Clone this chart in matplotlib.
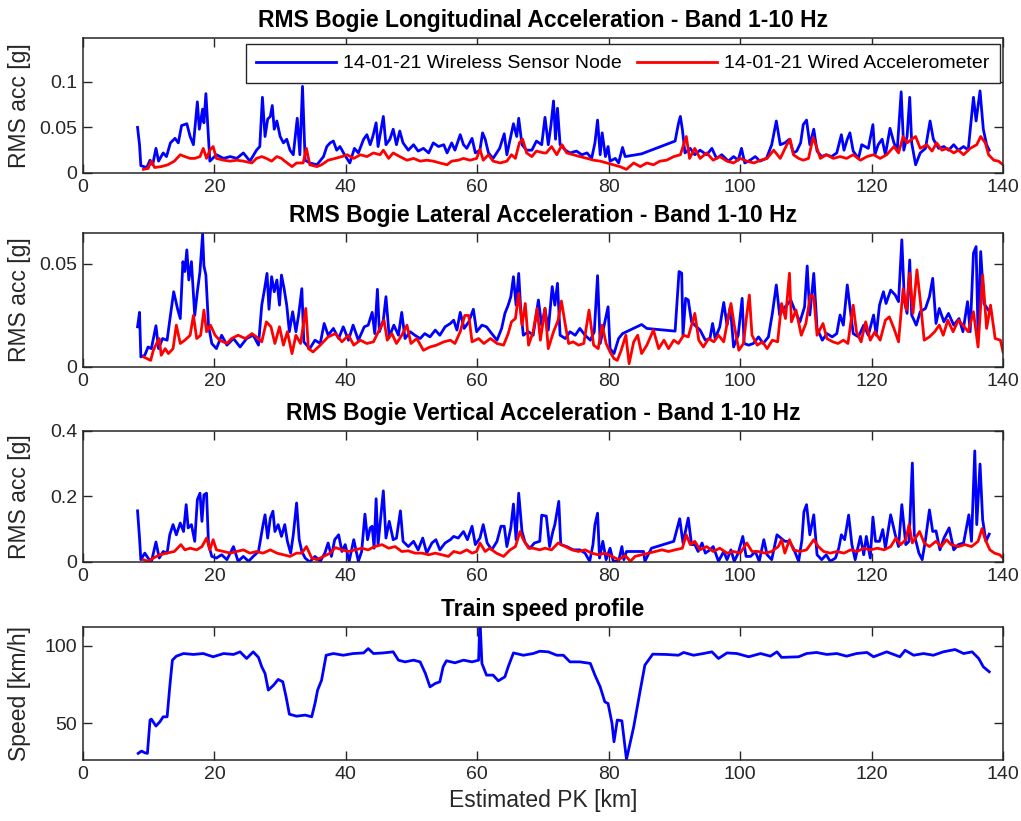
import numpy as np
import matplotlib
matplotlib.use("Agg")
import matplotlib.pyplot as plt

plt.rcParams['font.family'] = ['Liberation Sans', 'DejaVu Sans']

# ---- longitudinal RMS acceleration [g] ----
lon_km_wsn = [8.3, 8.6, 8.8, 9.7, 10.2, 10.6, 11.1, 11.5, 12.2, 12.7, 13.3, 14.0, 14.5, 15.0, 15.8, 16.3, 16.8, 17.4,
              17.7, 18.2, 18.4, 18.7, 19.1, 19.3, 20.3, 21.4, 22.4, 23.4, 24.4, 25.4, 26.4, 26.9, 27.3, 27.7, 28.1,
              28.5, 28.8, 29.1, 29.5, 30.0, 30.5, 31.0, 31.5, 32.0, 32.6, 33.0, 33.4, 33.8, 34.5, 35.6, 36.6, 37.1,
              37.6, 38.1, 38.6, 39.1, 39.8, 40.6, 41.3, 41.9, 42.7, 43.2, 43.7, 44.1, 44.6, 44.9, 45.7, 46.1, 46.7,
              47.2, 47.7, 48.2, 48.7, 49.5, 50.3, 51.0, 51.8, 52.6, 53.3, 54.1, 54.9, 55.4, 56.1, 56.6, 57.4, 57.9,
              58.4, 59.2, 59.7, 60.4, 60.8, 61.2, 61.7, 62.4, 63.4, 64.1, 64.5, 65.0, 65.5, 66.0, 66.3, 66.8, 67.5,
              68.3, 69.0, 69.8, 70.3, 70.8, 71.2, 71.6, 71.9, 72.2, 72.6, 73.4, 74.1, 75.1, 75.9, 76.7, 77.4, 77.9,
              78.3, 78.7, 79.0, 79.5, 79.9, 80.2, 81.0, 81.5, 82.1, 82.5, 85.0, 90.1, 90.6, 90.9, 91.2, 91.6, 92.4,
              93.1, 93.9, 94.9, 95.7, 96.4, 97.2, 98.2, 99.0, 99.7, 100.2, 100.7, 101.5, 102.3, 103.0, 104.0, 104.8,
              105.5, 106.1, 106.8, 107.5, 108.1, 108.6, 109.2, 109.6, 110.1, 110.6, 111.2, 111.7, 112.4, 113.1,
              113.9, 114.7, 115.4, 115.8, 116.3, 116.7, 117.2, 118.0, 118.5, 119.0, 119.5, 120.2, 120.5, 121.0,
              121.6, 122.1, 122.8, 123.4, 123.9, 124.5, 124.9, 125.4, 125.8, 126.1, 126.7, 127.4, 128.2, 128.9,
              129.4, 130.2, 131.0, 131.7, 132.5, 133.2, 134.0, 134.7, 135.5, 135.9, 136.5, 137.0, 137.5, 137.9]
lon_wsn = [0.050, 0.031, 0.008, 0.006, 0.014, 0.009, 0.027, 0.013, 0.022, 0.018, 0.033, 0.038, 0.033, 0.052, 0.054,
           0.040, 0.031, 0.078, 0.048, 0.070, 0.055, 0.087, 0.037, 0.013, 0.020, 0.016, 0.018, 0.016, 0.022, 0.013,
           0.025, 0.029, 0.083, 0.040, 0.059, 0.062, 0.074, 0.048, 0.057, 0.040, 0.033, 0.037, 0.025, 0.020, 0.060,
           0.020, 0.095, 0.014, 0.011, 0.009, 0.018, 0.029, 0.033, 0.035, 0.025, 0.029, 0.020, 0.011, 0.027, 0.022,
           0.037, 0.042, 0.031, 0.040, 0.055, 0.029, 0.062, 0.031, 0.037, 0.048, 0.031, 0.046, 0.033, 0.025, 0.031,
           0.024, 0.027, 0.022, 0.033, 0.029, 0.031, 0.022, 0.033, 0.025, 0.042, 0.031, 0.027, 0.038, 0.022, 0.025,
           0.044, 0.037, 0.022, 0.016, 0.027, 0.043, 0.020, 0.037, 0.054, 0.040, 0.060, 0.031, 0.025, 0.025, 0.035,
           0.031, 0.061, 0.031, 0.052, 0.079, 0.037, 0.071, 0.031, 0.025, 0.022, 0.024, 0.020, 0.022, 0.016, 0.033,
           0.058, 0.020, 0.044, 0.018, 0.029, 0.013, 0.016, 0.011, 0.028, 0.018, 0.021, 0.035, 0.054, 0.062, 0.048,
           0.022, 0.027, 0.020, 0.025, 0.020, 0.027, 0.016, 0.020, 0.013, 0.018, 0.014, 0.027, 0.011, 0.014, 0.018,
           0.013, 0.016, 0.031, 0.057, 0.031, 0.033, 0.037, 0.022, 0.024, 0.033, 0.053, 0.058, 0.031, 0.048, 0.024,
           0.018, 0.020, 0.018, 0.022, 0.042, 0.025, 0.037, 0.044, 0.024, 0.016, 0.031, 0.029, 0.027, 0.053, 0.020,
           0.031, 0.037, 0.020, 0.049, 0.033, 0.025, 0.089, 0.025, 0.040, 0.083, 0.033, 0.009, 0.022, 0.027, 0.057,
           0.037, 0.027, 0.029, 0.025, 0.031, 0.025, 0.029, 0.025, 0.083, 0.057, 0.090, 0.048, 0.031, 0.025]

lon_km_wired = [9.2, 9.9, 10.4, 10.9, 11.9, 12.9, 13.9, 14.8, 15.5, 16.3, 17.0, 17.8, 18.3, 18.8, 19.3, 19.8, 20.3,
                21.4, 22.4, 23.4, 24.4, 25.7, 26.4, 27.2, 27.9, 28.7, 29.5, 30.2, 30.7, 31.8, 32.5, 33.5, 34.0, 34.5,
                35.6, 36.3, 37.3, 38.4, 39.4, 40.2, 41.2, 42.2, 43.2, 44.2, 45.2, 45.7, 46.5, 47.2, 48.2, 49.3, 50.3,
                51.3, 52.3, 53.3, 54.3, 55.4, 56.1, 57.1, 57.9, 58.9, 59.9, 60.4, 60.9, 61.7, 62.4, 63.5, 64.5, 65.2,
                65.8, 66.4, 66.9, 67.5, 68.3, 69.0, 70.1, 70.5, 71.3, 72.1, 72.9, 73.6, 74.6, 75.6, 76.7, 77.7, 78.7,
                79.7, 80.7, 81.7, 82.7, 83.8, 84.8, 85.8, 86.8, 87.8, 88.8, 89.9, 90.9, 91.8, 92.3, 93.1, 93.9, 94.9,
                95.9, 96.9, 98.0, 99.0, 100.0, 101.0, 102.1, 103.1, 104.1, 105.1, 106.1, 107.1, 107.6, 108.1, 108.9,
                109.6, 110.4, 111.1, 111.6, 112.2, 113.1, 114.2, 115.2, 116.2, 117.2, 118.3, 119.3, 120.3, 121.3,
                122.3, 123.4, 124.1, 124.8, 125.4, 126.1, 126.7, 127.4, 128.4, 129.2, 129.9, 130.7, 131.5, 132.5,
                133.2, 134.0, 135.0, 136.0, 136.6, 137.3, 137.8, 138.6, 139.3, 140.0]
lon_wired = [0.004, 0.005, 0.013, 0.006, 0.007, 0.009, 0.013, 0.020, 0.018, 0.016, 0.016, 0.018, 0.027, 0.016, 0.025,
             0.029, 0.016, 0.014, 0.013, 0.014, 0.013, 0.011, 0.016, 0.018, 0.016, 0.013, 0.018, 0.016, 0.013, 0.007,
             0.011, 0.011, 0.027, 0.009, 0.007, 0.009, 0.014, 0.016, 0.018, 0.020, 0.016, 0.020, 0.018, 0.022, 0.020,
             0.025, 0.016, 0.022, 0.018, 0.014, 0.016, 0.013, 0.014, 0.013, 0.011, 0.009, 0.013, 0.014, 0.016, 0.014,
             0.016, 0.026, 0.014, 0.020, 0.013, 0.011, 0.013, 0.020, 0.016, 0.033, 0.037, 0.022, 0.018, 0.024, 0.022,
             0.022, 0.029, 0.020, 0.031, 0.022, 0.020, 0.018, 0.016, 0.014, 0.013, 0.011, 0.009, 0.007, 0.004, 0.011,
             0.007, 0.011, 0.009, 0.013, 0.014, 0.018, 0.020, 0.040, 0.016, 0.027, 0.016, 0.022, 0.014, 0.018, 0.013,
             0.011, 0.016, 0.013, 0.011, 0.014, 0.016, 0.025, 0.016, 0.031, 0.037, 0.020, 0.016, 0.014, 0.016, 0.039,
             0.029, 0.016, 0.020, 0.016, 0.018, 0.016, 0.020, 0.014, 0.018, 0.020, 0.016, 0.020, 0.029, 0.022, 0.040,
             0.033, 0.037, 0.040, 0.027, 0.031, 0.024, 0.033, 0.025, 0.027, 0.022, 0.025, 0.020, 0.027, 0.031, 0.040,
             0.033, 0.020, 0.014, 0.013, 0.009]

# ---- lateral RMS acceleration [g] ----
lat_km_wsn = [8.3, 8.6, 8.8, 9.4, 9.9, 10.4, 11.1, 11.5, 12.1, 12.8, 13.3, 13.8, 14.4, 14.8, 15.2, 15.5, 15.8, 16.1,
              16.5, 17.0, 17.4, 17.8, 18.2, 18.4, 18.7, 19.1, 19.6, 20.3, 21.1, 21.9, 22.9, 23.9, 24.9, 25.9, 26.7,
              27.2, 27.6, 28.0, 28.3, 28.7, 29.1, 29.5, 29.9, 30.2, 30.6, 31.0, 31.4, 31.9, 32.4, 32.8, 33.3, 33.6,
              34.5, 35.3, 36.1, 36.7, 37.3, 38.1, 38.9, 39.6, 40.4, 41.1, 41.9, 42.8, 43.4, 44.0, 44.4, 44.8, 45.1,
              45.7, 46.1, 46.6, 47.3, 48.0, 48.5, 49.0, 49.8, 50.5, 51.3, 52.0, 52.8, 53.6, 54.3, 55.1, 55.9, 56.4,
              56.9, 57.4, 58.0, 58.7, 59.4, 59.9, 60.7, 61.4, 62.2, 63.0, 63.7, 64.2, 64.7, 65.1, 65.5, 65.9, 66.3,
              66.6, 67.0, 67.8, 68.5, 69.3, 69.8, 70.3, 70.8, 71.4, 71.8, 72.2, 72.6, 73.4, 74.1, 74.9, 75.6, 76.4,
              77.2, 77.8, 78.3, 78.7, 79.2, 79.9, 80.2, 80.8, 81.5, 82.1, 85.0, 85.8, 90.1, 90.7, 91.1, 91.3, 91.7,
              92.1, 92.6, 93.1, 93.9, 94.7, 95.4, 95.8, 96.2, 96.9, 97.5, 98.0, 98.5, 99.0, 99.7, 100.3, 100.6,
              101.3, 102.0, 102.8, 103.5, 104.3, 104.9, 105.5, 106.0, 106.6, 107.1, 107.7, 108.4, 109.1, 109.8,
              110.2, 110.6, 111.2, 111.7, 112.5, 113.2, 114.0, 114.7, 115.2, 115.7, 116.3, 116.7, 117.2, 118.0,
              118.8, 119.5, 120.3, 120.7, 121.2, 121.8, 122.2, 122.9, 123.6, 124.1, 124.6, 125.0, 125.4, 125.8,
              126.1, 126.8, 127.4, 128.2, 128.8, 129.3, 129.8, 130.3, 131.0, 131.7, 132.5, 133.3, 133.9, 134.6,
              135.0, 135.5, 135.9, 136.2, 136.6, 137.1, 137.6, 138.1]
lat_wsn = [0.0195, 0.0265, 0.0049, 0.0057, 0.0097, 0.0089, 0.0200, 0.0089, 0.0138, 0.0130, 0.0250, 0.0365, 0.0280,
           0.0235, 0.0511, 0.0463, 0.0568, 0.0422, 0.0511, 0.0250, 0.0365, 0.0463, 0.0645, 0.0490, 0.0446, 0.0200,
           0.0114, 0.0089, 0.0154, 0.0106, 0.0138, 0.0097, 0.0138, 0.0154, 0.0106, 0.0300, 0.0373, 0.0454, 0.0280,
           0.0438, 0.0365, 0.0422, 0.0300, 0.0446, 0.0380, 0.0300, 0.0171, 0.0268, 0.0171, 0.0250, 0.0380, 0.0122,
           0.0089, 0.0130, 0.0114, 0.0211, 0.0154, 0.0187, 0.0138, 0.0195, 0.0130, 0.0203, 0.0130, 0.0195, 0.0203,
           0.0265, 0.0162, 0.0377, 0.0171, 0.0227, 0.0341, 0.0146, 0.0203, 0.0154, 0.0265, 0.0138, 0.0171, 0.0154,
           0.0138, 0.0162, 0.0146, 0.0179, 0.0154, 0.0195, 0.0211, 0.0227, 0.0179, 0.0265, 0.0187, 0.0219, 0.0280,
           0.0171, 0.0203, 0.0195, 0.0162, 0.0130, 0.0187, 0.0260, 0.0300, 0.0341, 0.0438, 0.0300, 0.0454, 0.0284,
           0.0154, 0.0171, 0.0154, 0.0325, 0.0200, 0.0284, 0.0179, 0.0390, 0.0300, 0.0406, 0.0154, 0.0138, 0.0171,
           0.0154, 0.0187, 0.0154, 0.0130, 0.0171, 0.0443, 0.0114, 0.0187, 0.0292, 0.0089, 0.0065, 0.0138, 0.0162,
           0.0206, 0.0187, 0.0174, 0.0463, 0.0455, 0.0154, 0.0333, 0.0325, 0.0219, 0.0203, 0.0179, 0.0130, 0.0138,
           0.0211, 0.0138, 0.0195, 0.0313, 0.0203, 0.0292, 0.0097, 0.0154, 0.0333, 0.0114, 0.0106, 0.0114, 0.0146,
           0.0114, 0.0146, 0.0260, 0.0398, 0.0252, 0.0284, 0.0300, 0.0325, 0.0268, 0.0219, 0.0292, 0.0490, 0.0252,
           0.0454, 0.0187, 0.0130, 0.0162, 0.0146, 0.0162, 0.0252, 0.0203, 0.0398, 0.0292, 0.0162, 0.0146, 0.0203,
           0.0154, 0.0252, 0.0154, 0.0300, 0.0365, 0.0308, 0.0373, 0.0349, 0.0317, 0.0617, 0.0317, 0.0260, 0.0519,
           0.0252, 0.0203, 0.0268, 0.0284, 0.0341, 0.0430, 0.0211, 0.0284, 0.0219, 0.0260, 0.0203, 0.0235, 0.0171,
           0.0317, 0.0171, 0.0552, 0.0584, 0.0162, 0.0560, 0.0308, 0.0284, 0.0260]

lat_km_wired = [9.2, 9.7, 10.3, 10.7, 11.2, 11.6, 11.9, 12.5, 13.0, 13.7, 14.2, 14.8, 15.5, 16.3, 16.8, 17.3, 17.9,
                18.4, 18.8, 19.4, 20.1, 20.8, 21.9, 22.6, 23.6, 24.7, 25.7, 26.4, 27.2, 27.9, 28.6, 29.2, 29.9, 30.5,
                31.1, 31.8, 32.4, 33.1, 33.9, 34.3, 35.0, 36.1, 37.3, 38.4, 39.4, 40.4, 41.2, 42.2, 43.2, 44.2, 45.2,
                45.8, 46.3, 47.0, 47.7, 48.5, 49.3, 49.9, 50.8, 51.8, 52.8, 53.8, 54.9, 55.9, 56.6, 57.4, 58.1, 58.7,
                59.2, 60.2, 61.0, 62.0, 63.0, 64.0, 64.7, 65.2, 65.8, 66.3, 66.8, 67.3, 67.8, 68.5, 69.1, 69.6, 70.3,
                70.8, 71.6, 72.3, 72.8, 73.4, 73.9, 74.6, 75.4, 76.2, 77.0, 77.7, 78.4, 79.0, 79.6, 80.2, 80.8, 81.3,
                81.9, 82.6, 83.1, 83.8, 84.4, 85.0, 85.8, 86.8, 87.6, 88.4, 89.1, 89.9, 90.6, 91.4, 92.1, 93.1, 93.7,
                94.4, 95.2, 96.0, 96.7, 97.5, 98.1, 98.6, 99.1, 99.8, 100.5, 101.0, 101.4, 101.8, 102.6, 103.4, 104.1,
                104.9, 105.7, 106.3, 106.9, 107.5, 107.8, 108.5, 109.3, 110.0, 110.7, 111.2, 111.7, 112.6, 113.2,
                114.1, 114.9, 115.7, 116.4, 117.2, 117.7, 118.4, 119.1, 119.8, 120.5, 121.3, 122.1, 122.7, 123.4,
                124.1, 124.8, 125.3, 125.8, 126.3, 126.9, 127.4, 128.0, 128.8, 129.6, 130.3, 130.9, 131.6, 132.4,
                133.2, 133.9, 134.7, 135.5, 136.2, 136.9, 137.5, 138.1, 138.8, 139.6, 140.0]
lat_wired = [0.0049, 0.0041, 0.0032, 0.0081, 0.0114, 0.0138, 0.0057, 0.0089, 0.0065, 0.0089, 0.0203, 0.0114, 0.0130,
             0.0154, 0.0250, 0.0138, 0.0154, 0.0276, 0.0171, 0.0203, 0.0154, 0.0130, 0.0114, 0.0138, 0.0154, 0.0138,
             0.0162, 0.0146, 0.0122, 0.0219, 0.0195, 0.0114, 0.0195, 0.0106, 0.0171, 0.0065, 0.0154, 0.0114, 0.0284,
             0.0089, 0.0073, 0.0106, 0.0146, 0.0162, 0.0122, 0.0154, 0.0106, 0.0130, 0.0114, 0.0122, 0.0187, 0.0227,
             0.0130, 0.0162, 0.0114, 0.0154, 0.0203, 0.0114, 0.0138, 0.0081, 0.0097, 0.0106, 0.0122, 0.0130, 0.0114,
             0.0171, 0.0250, 0.0250, 0.0122, 0.0138, 0.0114, 0.0138, 0.0114, 0.0106, 0.0162, 0.0219, 0.0235, 0.0357,
             0.0203, 0.0308, 0.0106, 0.0171, 0.0284, 0.0130, 0.0284, 0.0089, 0.0171, 0.0227, 0.0320, 0.0203, 0.0114,
             0.0122, 0.0106, 0.0114, 0.0276, 0.0106, 0.0089, 0.0203, 0.0114, 0.0073, 0.0041, 0.0032, 0.0081, 0.0154,
             0.0016, 0.0122, 0.0154, 0.0065, 0.0106, 0.0179, 0.0089, 0.0130, 0.0089, 0.0130, 0.0114, 0.0154, 0.0146,
             0.0260, 0.0130, 0.0097, 0.0138, 0.0122, 0.0154, 0.0122, 0.0227, 0.0308, 0.0203, 0.0081, 0.0114, 0.0252,
             0.0349, 0.0154, 0.0106, 0.0122, 0.0089, 0.0130, 0.0122, 0.0308, 0.0235, 0.0455, 0.0219, 0.0276, 0.0154,
             0.0211, 0.0349, 0.0341, 0.0154, 0.0211, 0.0138, 0.0122, 0.0114, 0.0130, 0.0114, 0.0300, 0.0171, 0.0122,
             0.0219, 0.0130, 0.0171, 0.0130, 0.0227, 0.0243, 0.0187, 0.0122, 0.0380, 0.0276, 0.0455, 0.0260, 0.0471,
             0.0325, 0.0130, 0.0146, 0.0171, 0.0203, 0.0154, 0.0227, 0.0171, 0.0227, 0.0203, 0.0171, 0.0268, 0.0097,
             0.0446, 0.0187, 0.0300, 0.0138, 0.0130, 0.0073]

# ---- vertical RMS acceleration [g] ----
ver_km_wsn = [8.3, 8.6, 8.8, 9.4, 9.9, 10.4, 11.1, 11.6, 12.2, 12.8, 13.2, 13.7, 14.2, 14.8, 15.3, 15.7, 16.0, 16.5,
              17.0, 17.4, 17.8, 18.1, 18.4, 18.8, 19.1, 19.6, 20.3, 21.1, 21.9, 22.9, 23.6, 24.4, 25.2, 25.9, 26.7,
              27.4, 27.7, 28.1, 28.5, 28.9, 29.2, 29.7, 30.2, 30.7, 31.1, 31.6, 32.0, 32.5, 32.9, 33.3, 33.8, 34.5,
              35.3, 36.1, 36.8, 37.3, 37.8, 38.3, 38.9, 39.4, 39.9, 40.5, 41.2, 41.9, 42.4, 42.9, 43.3, 43.7, 44.0,
              44.3, 44.6, 44.9, 45.7, 46.1, 46.6, 47.2, 47.7, 48.3, 48.7, 49.5, 50.3, 51.0, 51.7, 52.3, 53.1, 53.7,
              54.3, 55.1, 55.9, 56.4, 57.1, 57.9, 58.5, 59.2, 59.7, 60.4, 60.9, 61.5, 62.2, 63.0, 63.6, 64.1, 64.5,
              65.1, 65.5, 65.9, 66.3, 66.8, 67.3, 68.0, 68.7, 69.5, 69.8, 70.5, 71.0, 71.5, 71.8, 72.4, 72.7, 73.6,
              74.6, 75.6, 76.4, 77.1, 77.6, 77.9, 78.3, 78.6, 79.1, 79.6, 80.2, 80.7, 81.5, 82.0, 82.3, 82.7, 85.3,
              85.5, 86.5, 89.9, 90.8, 91.3, 92.1, 92.6, 93.1, 93.6, 94.2, 94.7, 95.4, 95.9, 96.7, 97.5, 98.0, 98.6,
              99.1, 99.7, 100.4, 100.9, 101.6, 102.3, 102.9, 103.6, 104.1, 104.8, 105.6, 106.2, 106.8, 107.5, 108.1,
              108.9, 109.4, 109.7, 110.1, 110.6, 111.2, 111.7, 112.4, 113.1, 113.7, 114.5, 115.0, 115.4, 115.9,
              116.5, 117.0, 117.5, 118.3, 118.8, 119.2, 119.8, 120.2, 120.6, 121.2, 121.7, 122.1, 122.9, 123.6,
              124.1, 124.6, 125.2, 125.7, 126.2, 126.5, 127.2, 127.7, 128.2, 128.8, 129.3, 129.8, 130.4, 131.0,
              131.8, 132.5, 133.2, 134.0, 134.8, 135.2, 135.7, 136.0, 136.5, 136.9, 137.4, 137.9]
ver_wsn = [0.156, 0.073, 0.007, 0.027, 0.012, 0.000, 0.061, 0.012, 0.032, 0.027, 0.083, 0.114, 0.083, 0.119, 0.093,
           0.175, 0.104, 0.114, 0.063, 0.190, 0.210, 0.124, 0.205, 0.210, 0.053, 0.017, 0.012, 0.022, 0.007, 0.047,
           0.002, 0.017, 0.002, 0.017, 0.032, 0.114, 0.144, 0.073, 0.134, 0.155, 0.093, 0.114, 0.078, 0.114, 0.063,
           0.027, 0.083, 0.180, 0.068, 0.032, 0.012, 0.000, 0.017, 0.002, 0.027, 0.058, 0.017, 0.068, 0.083, 0.032,
           0.053, 0.002, 0.068, 0.002, 0.032, 0.146, 0.068, 0.104, 0.109, 0.042, 0.193, 0.053, 0.217, 0.073, 0.124,
           0.068, 0.073, 0.156, 0.063, 0.047, 0.063, 0.037, 0.073, 0.027, 0.058, 0.068, 0.037, 0.058, 0.068, 0.078,
           0.073, 0.093, 0.068, 0.109, 0.053, 0.073, 0.114, 0.058, 0.037, 0.063, 0.109, 0.109, 0.047, 0.104, 0.177,
           0.068, 0.210, 0.093, 0.058, 0.042, 0.058, 0.063, 0.143, 0.140, 0.047, 0.093, 0.114, 0.185, 0.053, 0.047,
           0.037, 0.037, 0.027, 0.002, 0.053, 0.114, 0.149, 0.012, 0.063, 0.007, 0.042, 0.002, 0.002, 0.047, 0.007,
           0.032, 0.032, 0.002, 0.042, 0.063, 0.132, 0.058, 0.134, 0.053, 0.053, 0.032, 0.058, 0.027, 0.037, 0.047,
           0.002, 0.032, 0.007, 0.037, 0.002, 0.027, 0.078, 0.017, 0.017, 0.032, 0.002, 0.068, 0.022, 0.007, 0.083,
           0.073, 0.063, 0.063, 0.042, 0.002, 0.068, 0.153, 0.175, 0.083, 0.144, 0.022, 0.007, 0.022, 0.002, 0.012,
           0.042, 0.083, 0.068, 0.143, 0.053, 0.007, 0.078, 0.022, 0.078, 0.012, 0.137, 0.063, 0.063, 0.099, 0.042,
           0.144, 0.083, 0.047, 0.175, 0.053, 0.063, 0.302, 0.083, 0.027, 0.007, 0.068, 0.159, 0.093, 0.095, 0.037,
           0.073, 0.104, 0.037, 0.053, 0.058, 0.144, 0.063, 0.339, 0.114, 0.299, 0.129, 0.063, 0.085]

ver_km_wired = [9.2, 9.9, 10.7, 11.7, 12.7, 13.9, 14.9, 15.5, 16.3, 17.3, 18.1, 18.8, 19.3, 19.8, 20.3, 21.4, 22.4,
                23.4, 24.4, 25.4, 26.4, 27.4, 28.5, 29.5, 30.5, 31.5, 32.5, 33.3, 34.0, 34.8, 35.6, 36.6, 37.6, 38.4,
                39.4, 40.4, 41.4, 42.4, 43.4, 44.4, 45.5, 46.5, 47.5, 48.5, 49.5, 50.5, 51.6, 52.6, 53.6, 54.6, 55.6,
                56.4, 57.4, 58.4, 59.2, 59.9, 60.4, 61.2, 61.9, 62.9, 64.0, 65.0, 65.8, 66.5, 67.0, 67.8, 68.5, 69.5,
                70.3, 71.3, 72.3, 73.4, 74.4, 75.4, 76.4, 77.4, 78.4, 79.4, 80.5, 81.5, 82.5, 83.3, 84.0, 85.0, 86.1,
                87.1, 88.1, 89.1, 90.1, 91.2, 91.8, 92.4, 93.1, 93.9, 94.9, 95.9, 96.9, 98.0, 99.0, 100.0, 101.0,
                101.8, 102.8, 103.8, 104.8, 105.8, 106.3, 106.8, 107.5, 108.1, 109.1, 110.1, 111.2, 111.9, 112.7,
                113.7, 114.7, 115.8, 116.8, 117.8, 118.8, 119.8, 120.9, 121.9, 122.9, 123.7, 124.4, 125.2, 125.7,
                126.2, 127.3, 128.0, 128.8, 129.8, 130.6, 131.4, 132.1, 133.2, 134.2, 135.2, 136.2, 136.8, 137.3,
                138.0, 138.7, 139.5, 140.0]
ver_wired = [0.007, 0.002, 0.012, 0.022, 0.027, 0.032, 0.053, 0.037, 0.042, 0.037, 0.047, 0.073, 0.037, 0.068, 0.037,
             0.032, 0.027, 0.032, 0.037, 0.027, 0.032, 0.027, 0.037, 0.027, 0.022, 0.017, 0.027, 0.027, 0.047, 0.012,
             0.007, 0.017, 0.027, 0.044, 0.037, 0.032, 0.037, 0.042, 0.037, 0.047, 0.053, 0.042, 0.047, 0.032, 0.034,
             0.027, 0.027, 0.022, 0.027, 0.022, 0.017, 0.032, 0.027, 0.037, 0.027, 0.032, 0.058, 0.032, 0.042, 0.027,
             0.017, 0.037, 0.047, 0.093, 0.068, 0.042, 0.042, 0.037, 0.042, 0.037, 0.058, 0.047, 0.037, 0.032, 0.037,
             0.027, 0.022, 0.027, 0.017, 0.007, 0.020, 0.002, 0.017, 0.022, 0.027, 0.032, 0.037, 0.032, 0.037, 0.042,
             0.083, 0.053, 0.063, 0.037, 0.047, 0.032, 0.042, 0.027, 0.032, 0.027, 0.058, 0.032, 0.032, 0.027, 0.032,
             0.047, 0.068, 0.027, 0.068, 0.037, 0.032, 0.037, 0.068, 0.047, 0.032, 0.027, 0.032, 0.027, 0.037, 0.032,
             0.042, 0.037, 0.042, 0.037, 0.047, 0.073, 0.053, 0.068, 0.114, 0.058, 0.093, 0.058, 0.047, 0.063, 0.047,
             0.068, 0.053, 0.047, 0.053, 0.047, 0.063, 0.102, 0.068, 0.037, 0.027, 0.022, 0.012]

# ---- train speed [km/h] ----
spd_km = [8.4, 8.9, 9.4, 9.8, 10.2, 10.4, 11.1, 11.7, 12.2, 12.8, 13.2, 13.6, 14.2, 15.3, 16.8, 18.3, 19.8, 21.4,
          22.9, 23.9, 24.9, 25.9, 26.7, 27.2, 27.7, 28.2, 29.0, 29.7, 30.4, 30.9, 31.4, 32.5, 33.8, 34.8, 35.3, 35.7,
          36.3, 37.0, 38.1, 39.6, 41.1, 42.7, 43.4, 44.2, 45.7, 47.2, 48.0, 49.0, 50.3, 51.3, 52.1, 52.8, 53.6, 54.3,
          54.8, 55.3, 56.6, 57.9, 59.2, 60.2, 60.4, 60.7, 61.4, 62.4, 63.2, 64.2, 64.7, 65.5, 67.0, 68.5, 69.5, 70.8,
          72.1, 73.1, 74.1, 75.6, 77.2, 77.9, 78.7, 79.4, 79.9, 80.5, 80.8, 81.3, 82.0, 82.7, 83.8, 84.8, 85.5, 86.7,
          88.8, 90.6, 91.4, 92.9, 94.4, 95.7, 96.7, 98.0, 99.5, 101.3, 103.1, 104.6, 105.6, 106.3, 108.9, 110.1,
          111.6, 113.2, 114.7, 116.2, 117.7, 119.3, 120.3, 122.3, 124.3, 125.1, 126.4, 127.9, 129.4, 130.9, 132.7,
          134.0, 135.3, 136.3, 137.0, 137.9]
speed = [30.4, 31.9, 30.8, 30.4, 52.0, 52.6, 48.1, 50.9, 54.1, 54.1, 73.5, 90.8, 93.4, 95.1, 94.5, 95.1, 93.0, 95.1,
         94.5, 96.2, 91.9, 96.2, 92.6, 86.5, 82.2, 71.4, 74.6, 78.3, 76.8, 67.1, 55.8, 54.5, 55.2, 54.1, 62.7, 71.4,
         77.8, 94.0, 95.1, 94.0, 95.1, 95.5, 98.3, 95.1, 95.5, 96.2, 90.8, 89.7, 90.8, 89.7, 82.2, 73.5, 75.7, 76.8,
         86.5, 90.4, 89.1, 90.8, 89.7, 90.8, 118.0, 88.7, 81.1, 81.1, 77.4, 80.0, 86.5, 95.5, 94.0, 95.1, 96.6, 96.2,
         94.0, 94.0, 89.7, 89.7, 88.7, 81.1, 73.5, 63.8, 62.7, 49.8, 37.9, 52.0, 51.5, 26.5, 47.6, 71.4, 87.6, 94.7,
         94.5, 94.0, 95.8, 94.0, 95.1, 96.2, 91.9, 95.5, 95.1, 93.0, 95.1, 93.4, 96.2, 92.6, 93.0, 95.1, 95.8, 94.5,
         95.1, 93.4, 95.1, 95.8, 93.0, 96.2, 93.0, 97.2, 94.0, 95.1, 94.0, 96.2, 97.7, 95.1, 96.2, 91.9, 86.5, 83.3]

label_wsn = '14-01-21 Wireless Sensor Node'
label_wired = '14-01-21 Wired Accelerometer'
x_ticks = [0, 20, 40, 60, 80, 100, 120, 140]

BLUE = (0, 0, 1)
RED = (1, 0, 0)
AX_COL = '#262626'

fig = plt.figure(figsize=(10.21, 8.21), dpi=100)

# axes rectangles (left, bottom, width, height) in figure fractions
rects = [(0.0813, 0.7893, 0.9011, 0.1644),
         (0.0813, 0.5530, 0.9011, 0.1632),
         (0.0813, 0.3155, 0.9011, 0.1596),
         (0.0813, 0.0743, 0.9011, 0.1620)]
axes = [fig.add_axes(r) for r in rects]


def style_axis(ax, ylim, yticks, yticklabels, title, ylabel):
    ax.set_xlim(0, 140)
    ax.set_ylim(*ylim)
    ax.set_xticks(x_ticks)
    ax.set_yticks(yticks)
    ax.set_yticklabels(yticklabels)
    ax.tick_params(direction='in', top=True, right=True, length=6.5, width=1.0,
                   labelsize=14, colors=AX_COL, pad=4)
    for sp in ax.spines.values():
        sp.set_color(AX_COL)
        sp.set_linewidth(1.1)
    ax.set_title(title, fontsize=16.5, fontweight='bold', pad=8)
    ax.set_ylabel(ylabel, fontsize=16.5, color=AX_COL)


ax1, ax2, ax3, ax4 = axes

ax1.plot(lon_km_wsn, lon_wsn, color=BLUE, lw=2.0, label=label_wsn)
ax1.plot(lon_km_wired, lon_wired, color=RED, lw=2.0, label=label_wired)
style_axis(ax1, (0, 0.148), [0, 0.05, 0.1], ['0', '0.05', '0.1'],
           'RMS Bogie Longitudinal Acceleration - Band 1-10 Hz', 'RMS acc [g]')
leg = ax1.legend(loc='upper right', ncol=2, fontsize=14, frameon=True, fancybox=False,
                 handlelength=4.1, columnspacing=0.8, borderpad=0.55, handletextpad=0.35,
                 bbox_to_anchor=(0.9965, 0.955), borderaxespad=0)
leg.get_frame().set_edgecolor('#262626')
leg.get_frame().set_linewidth(1.0)
leg.get_frame().set_alpha(1)

ax2.plot(lat_km_wsn, lat_wsn, color=BLUE, lw=2.0)
ax2.plot(lat_km_wired, lat_wired, color=RED, lw=2.0)
style_axis(ax2, (0, 0.065), [0, 0.05], ['0', '0.05'],
           'RMS Bogie Lateral Acceleration - Band 1-10 Hz', 'RMS acc [g]')

ax3.plot(ver_km_wsn, ver_wsn, color=BLUE, lw=2.0)
ax3.plot(ver_km_wired, ver_wired, color=RED, lw=2.0)
style_axis(ax3, (0, 0.4), [0, 0.2, 0.4], ['0', '0.2', '0.4'],
           'RMS Bogie Vertical Acceleration - Band 1-10 Hz', 'RMS acc [g]')

ax4.plot(spd_km, speed, color=BLUE, lw=2.0)
style_axis(ax4, (26.1, 112.3), [50, 100], ['50', '100'],
           'Train speed profile', 'Speed [km/h]')
ax4.set_xlabel('Estimated PK [km]', fontsize=16.5, color=AX_COL, labelpad=5)

# line up the y labels like a tiled layout
for ax in axes:
    ax.yaxis.set_label_coords(-0.056, 0.5)

fig.savefig('out.png', dpi=100)
